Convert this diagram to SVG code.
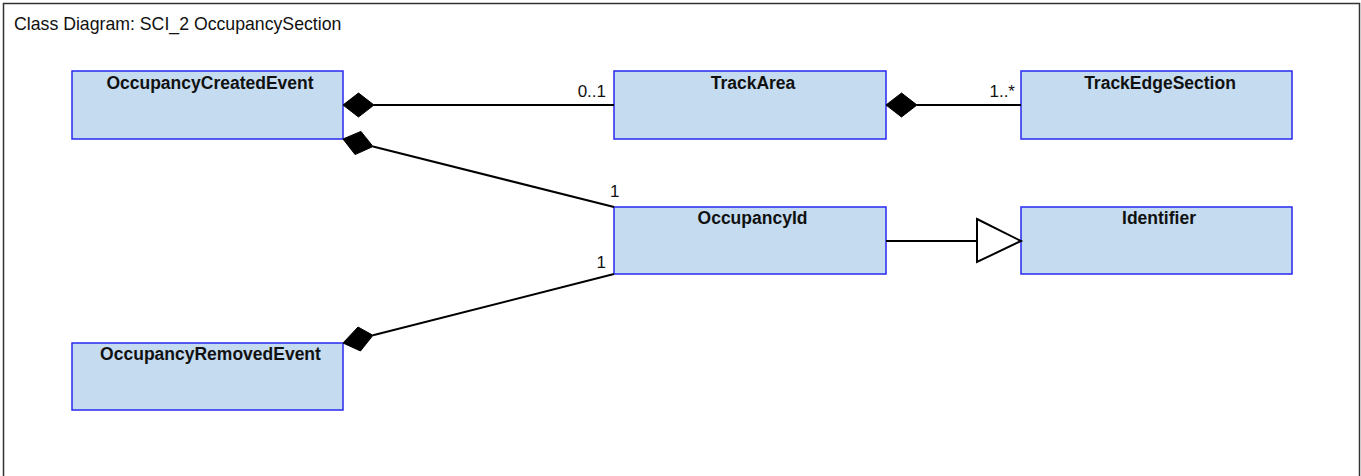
<svg xmlns="http://www.w3.org/2000/svg" width="1361" height="476" viewBox="0 0 1361 476">
<style>
.frame{fill:#ffffff;stroke:#333333;stroke-width:1.5}
.cls{fill:#c5dcf0;stroke:#2828f0;stroke-width:1.5}
.name{font-family:"Liberation Sans",Arial,sans-serif;font-weight:bold;font-size:17.5px;fill:#111111;text-anchor:middle}
.title{font-family:"Liberation Sans",Arial,sans-serif;font-size:17.7px;fill:#111111}
.mult{font-family:"Liberation Sans",Arial,sans-serif;font-size:17px;fill:#111111}
.ln{stroke:#000000;stroke-width:2;fill:none}
.dia{fill:#000000;stroke:#000000;stroke-width:1}
.tri{fill:#ffffff;stroke:#000000;stroke-width:2;stroke-linejoin:miter}
</style>
<rect class="frame" x="3.5" y="3.5" width="1356" height="490"/>
<text class="title" x="14" y="30">Class Diagram: SCI_2 OccupancySection</text>
<g id="OccupancyCreatedEvent">
<rect class="cls" x="72" y="71" width="271" height="68"/>
<text class="name" x="210" y="89">OccupancyCreatedEvent</text>
</g>
<g id="TrackArea">
<rect class="cls" x="614" y="71" width="272" height="68"/>
<text class="name" x="753" y="88.5">TrackArea</text>
</g>
<g id="TrackEdgeSection">
<rect class="cls" x="1021" y="71" width="271" height="68"/>
<text class="name" x="1160" y="88.5">TrackEdgeSection</text>
</g>
<g id="OccupancyId">
<rect class="cls" x="614" y="207" width="272" height="67"/>
<text class="name" x="752.5" y="223.5">OccupancyId</text>
</g>
<g id="Identifier">
<rect class="cls" x="1021" y="207" width="271" height="67"/>
<text class="name" x="1159" y="223.5">Identifier</text>
</g>
<g id="OccupancyRemovedEvent">
<rect class="cls" x="72" y="343" width="271" height="67"/>
<text class="name" x="210.5" y="360">OccupancyRemovedEvent</text>
</g>
<g id="connectors">
<line class="ln" x1="374" y1="105" x2="614" y2="105"/>
<polygon class="dia" points="343,105 358.5,93 374,105 358.5,117"/>
<text class="mult" x="606" y="97" text-anchor="end">0..1</text>
<line class="ln" x1="917" y1="105" x2="1021" y2="105"/>
<polygon class="dia" points="886,105 901.5,93 917,105 901.5,117"/>
<text class="mult" x="1015" y="97" text-anchor="end">1..*</text>
<line class="ln" x1="373" y1="146.5" x2="614" y2="207"/>
<polygon class="dia" points="343,139 360.9,131.4 373,146.5 355.1,154.6"/>
<text class="mult" x="610" y="197">1</text>
<line class="ln" x1="373" y1="335.3" x2="614" y2="274"/>
<polygon class="dia" points="343,343 358,327 373,335.3 360.5,351"/>
<text class="mult" x="596.5" y="268">1</text>
<line class="ln" x1="886" y1="241" x2="977" y2="241"/>
<polygon class="tri" points="977,219 1021,241 977,262"/>
</g>
</svg>
